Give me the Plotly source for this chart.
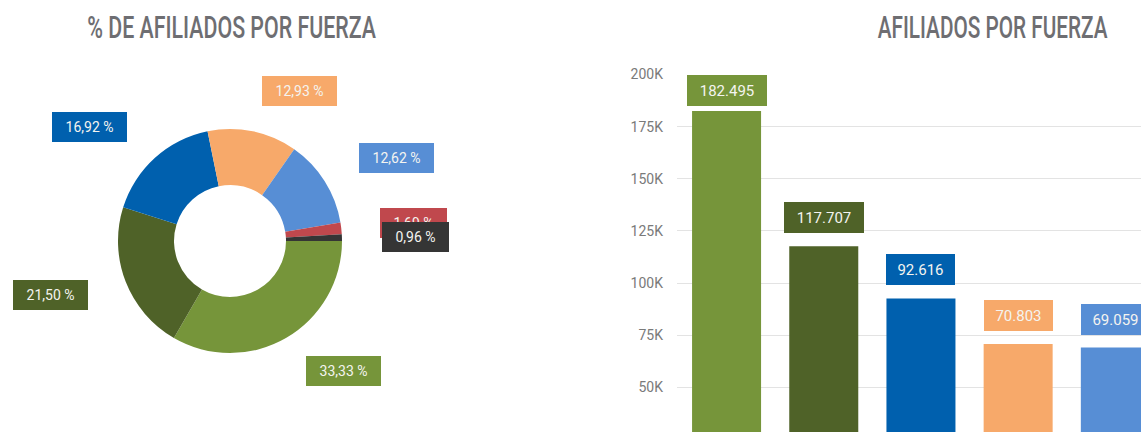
import plotly.graph_objects as go

# ---------------- data ----------------
fuerzas = ["Ejército", "Armada", "Policía", "Fuerza Aérea", "Ministerio", "Otros", "Sin dato"]
porcentajes = [33.33, 21.50, 16.92, 12.93, 12.62, 1.69, 0.96]
afiliados = [182495, 117707, 92616, 70803, 69059, 9250, 5260]
colores = ["#76953A", "#4F6228", "#0060AE", "#F7A96A", "#578ED5", "#C0484D", "#353535"]
y_ticks = [25000, 50000, 75000, 100000, 125000, 150000, 175000, 200000]
y_ticktext = ["25K", "50K", "75K", "100K", "125K", "150K", "175K", "200K"]
titulos = ["% DE AFILIADOS POR FUERZA", "AFILIADOS POR FUERZA"]

# ---------------- layout constants ----------------
W, H = 1141, 432
FONT = "Roboto"
TITLE_COLOR = "#6E6E72"
title_pos = [(231, 27), (992, 27)]
title_widths = [289, 230]

# pie label placement (pixels, centre of box)
pie_label_pos = [(344, 371), (50, 295), (89, 127), (299, 91), (396, 158), (413, 223), (415, 237)]

def px_x(x):
    return x / W

def px_y(y):
    return 1 - y / H

def fmt_pct(v):
    return f"{v:.2f}".replace(".", ",") + " %"

def fmt_num(v):
    return f"{v:,}".replace(",", ".")

fig = go.Figure()

# ---------------- donut ----------------
cx, cy, r = 230, 241, 112
fig.add_trace(go.Pie(
    labels=fuerzas, values=porcentajes, hole=0.5, sort=False,
    direction="clockwise", rotation=90,
    marker=dict(colors=colores, line=dict(width=0)),
    textinfo="none", showlegend=False, hoverinfo="label+percent",
    domain=dict(x=[px_x(cx - r), px_x(cx + r)], y=[px_y(cy + r), px_y(cy - r)]),
))

# ---------------- bars ----------------
y_min, y_max = 28600, 200000
fig.add_trace(go.Bar(
    x=list(range(len(fuerzas))), y=afiliados,
    marker=dict(color=colores, line=dict(width=0)),
    width=0.71, showlegend=False, hovertext=fuerzas,
    xaxis="x", yaxis="y",
))

plot_top_px = 74.5
plot_left_px = 677
fig.update_layout(
    width=W, height=H,
    margin=dict(l=0, r=0, t=0, b=0, pad=0),
    paper_bgcolor="white", plot_bgcolor="white",
    font=dict(family=FONT),
    xaxis=dict(domain=[px_x(plot_left_px), 1], range=[-0.51, 4.264],
               showticklabels=False, showgrid=False, zeroline=False,
               showline=False, ticks="", automargin=False),
    yaxis=dict(domain=[0, px_y(plot_top_px)], range=[y_min, y_max],
               tickvals=y_ticks, ticktext=y_ticktext,
               showgrid=True, gridcolor="#E3E3E3", gridwidth=1,
               zeroline=False, showline=False, ticks="",
               ticklabelstandoff=13, automargin=False,
               tickfont=dict(family=FONT, size=14, color="#7A7A7A")),
    bargap=0.29,
)

ann = []
# titles (indices 0 and 1)
for t, (tx, ty) in zip(titulos, title_pos):
    ann.append(dict(text=t, x=px_x(tx), y=px_y(ty),
                    xref="paper", yref="paper", showarrow=False,
                    xanchor="center", yanchor="middle",
                    font=dict(family=FONT, size=31, weight=500, color=TITLE_COLOR)))

# pie labels
for pct, col, (lx, ly) in zip(porcentajes, colores, pie_label_pos):
    t = fmt_pct(pct)
    ann.append(dict(text=t, x=px_x(lx), y=px_y(ly), xref="paper", yref="paper",
                    showarrow=False, xanchor="center", yanchor="middle",
                    bgcolor=col, borderpad=0, borderwidth=0,
                    width=8 * len(t) + 19, height=30,
                    font=dict(family=FONT, size=14, color="#F4F4F0")))

# bar labels
ppu = (H - plot_top_px) / (y_max - y_min)
box_h = 31
for i, (v, col) in enumerate(zip(afiliados, colores)):
    t = fmt_num(v)
    gap = (y_max - v) * ppu
    shift = min(13, gap - box_h - 0.5)
    ann.append(dict(text=t, x=i, y=v, xref="x", yref="y",
                    showarrow=False, xanchor="center", yanchor="bottom",
                    yshift=shift, bgcolor=col, borderpad=0, borderwidth=0,
                    width=11 * len(t) + 3, height=box_h,
                    font=dict(family=FONT, size=15, color="#F4F4F0")))

fig.update_layout(annotations=ann)

post_js = """
var st = document.createElement('style');
st.textContent = 'html,body{margin:0;padding:0;overflow:hidden;}';
document.head.appendChild(st);
var gd = document.getElementById('{plot_id}');
var targets = {'0': %d, '1': %d};
gd.querySelectorAll('g.annotation').forEach(function (g) {
  var idx = g.getAttribute('data-index');
  if (targets[idx] !== undefined) {
    var t = g.querySelector('text.annotation-text');
    if (!t) return;
    var w = t.getBBox().width;
    if (w > 0) {
      t.style.transformBox = 'fill-box';
      t.style.transformOrigin = 'center';
      t.style.transform = 'scaleX(' + (targets[idx] / w) + ')';
    }
  }
});
""" % (title_widths[0], title_widths[1])

fig.write_html("out.html", post_script=post_js, config={"displayModeBar": False})
